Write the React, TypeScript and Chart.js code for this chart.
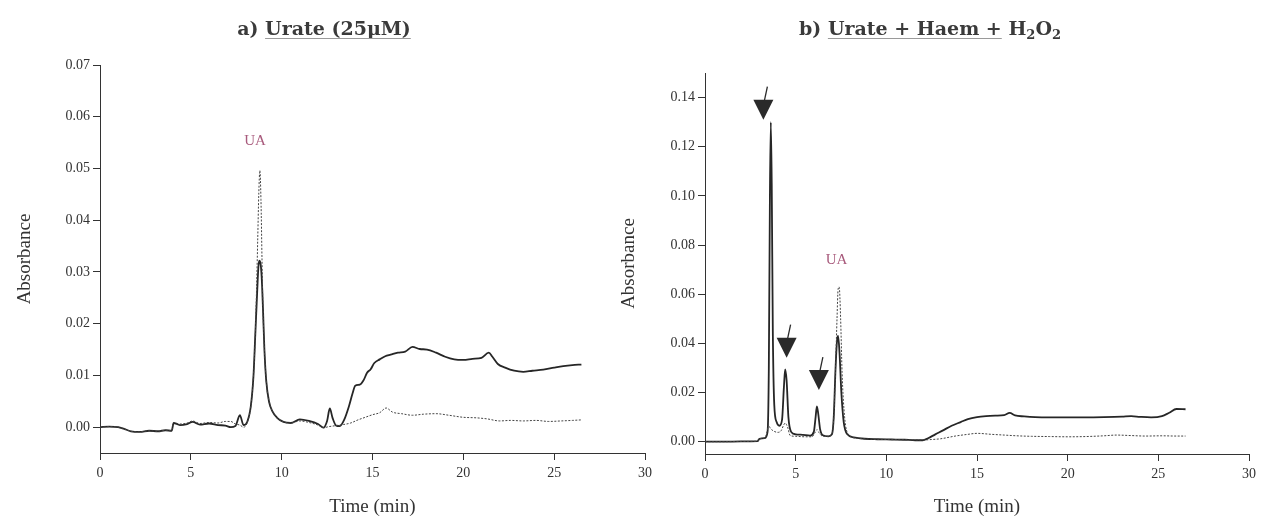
import React, { useEffect, useRef } from "react";
import { Chart, registerables } from "chart.js";

Chart.register(...registerables);

// ---------- tick labels ----------
const X_TICKS = [0, 5, 10, 15, 20, 25, 30];
const Y_TICKS_A = [0, 0.01, 0.02, 0.03, 0.04, 0.05, 0.06, 0.07];
const Y_TICKS_B = [0, 0.02, 0.04, 0.06, 0.08, 0.1, 0.12, 0.14];

// ---------- panel a) Urate (25 µM) ----------
const T_A_SOLID = [0, 0.5, 1.0, 1.3, 1.7, 2.2, 2.7, 3.2, 3.6, 3.95, 4.05, 4.4, 4.8, 5.1, 5.5, 6.0, 6.5, 6.9, 7.2, 7.45, 7.7, 7.9, 8.1, 8.3, 8.45, 8.55, 8.65, 8.72, 8.77, 8.83, 8.9, 8.97, 9.05, 9.15, 9.3, 9.5, 9.75, 10.1, 10.5, 11.0, 11.5, 12.0, 12.3, 12.5, 12.65, 12.8, 13.0, 13.2, 13.45, 13.7, 13.9, 14.05, 14.3, 14.5, 14.7, 14.9, 15.1, 15.4, 15.7, 16.0, 16.4, 16.8, 17.2, 17.6, 18.0, 18.5, 19.0, 19.5, 20.0, 20.5, 21.0, 21.4, 21.6, 21.9, 22.3, 22.8, 23.3, 23.8, 24.4, 25.0, 25.5, 26.0, 26.5];
const V_A_SOLID = [0.0, 0.0001, 0.0, -0.0003, -0.0008, -0.0009, -0.0007, -0.0008, -0.0006, -0.0007, 0.0008, 0.0004, 0.0006, 0.001, 0.0005, 0.0007, 0.0004, 0.0003, 0.0, 0.0002, 0.0023, 0.0004, 0.001, 0.004, 0.01, 0.018, 0.026, 0.031, 0.0322, 0.0318, 0.029, 0.023, 0.015, 0.009, 0.005, 0.003, 0.0018, 0.001, 0.0008, 0.0015, 0.0012, 0.0006, -0.0001, 0.0012, 0.0036, 0.0018, 0.0003, 0.0002, 0.0015, 0.004, 0.0065, 0.008, 0.0082, 0.009, 0.0105, 0.0112, 0.0124, 0.0131, 0.0137, 0.014, 0.0144, 0.0146, 0.0155, 0.0151, 0.015, 0.0144, 0.0136, 0.0131, 0.013, 0.0132, 0.0134, 0.0144, 0.0136, 0.0122, 0.0115, 0.0109, 0.0107, 0.0109, 0.0111, 0.0115, 0.0118, 0.012, 0.0121];

const T_A_DOTTED = [0, 0.5, 1.0, 1.3, 1.7, 2.2, 2.7, 3.2, 3.6, 3.95, 4.05, 4.4, 4.8, 5.1, 5.5, 6.0, 6.5, 6.9, 7.2, 7.45, 7.7, 7.9, 8.1, 8.3, 8.45, 8.55, 8.62, 8.68, 8.74, 8.8, 8.86, 8.92, 8.97, 9.05, 9.15, 9.3, 9.5, 9.75, 10.1, 10.5, 11.0, 11.5, 12.0, 12.3, 12.6, 13.0, 13.4, 13.8, 14.2, 14.6, 15.0, 15.4, 15.75, 16.1, 16.6, 17.2, 17.8, 18.5, 19.2, 20.0, 20.7, 21.3, 22.0, 22.6, 23.3, 24.0, 24.7, 25.4, 26.0, 26.5];
const V_A_DOTTED = [0.0, 0.0001, 0.0, -0.0003, -0.0008, -0.0009, -0.0007, -0.0008, -0.0006, -0.0007, 0.0009, 0.0006, 0.0008, 0.0012, 0.0007, 0.0009, 0.0008, 0.0011, 0.0011, 0.0006, 0.0004, 0.0, 0.0008, 0.004, 0.01, 0.018, 0.027, 0.036, 0.045, 0.0496, 0.044, 0.032, 0.023, 0.015, 0.009, 0.005, 0.003, 0.0018, 0.001, 0.0008, 0.0012, 0.0009, 0.0004, -0.0001, 0.0001, 0.0003, 0.0005, 0.0008, 0.0014, 0.0019, 0.0024, 0.0028, 0.0037, 0.0029, 0.0026, 0.0023, 0.0025, 0.0026, 0.0023, 0.0019, 0.0018, 0.0016, 0.0012, 0.0013, 0.0012, 0.0013, 0.0011, 0.0012, 0.0013, 0.0014];

// ---------- panel b) Urate + Haem + H2O2 ----------
const T_B_SOLID = [0, 1, 2, 2.9, 3.0, 3.3, 3.45, 3.52, 3.58, 3.63, 3.68, 3.74, 3.82, 3.95, 4.1, 4.25, 4.35, 4.42, 4.5, 4.6, 4.75, 5.0, 5.4, 5.8, 6.0, 6.1, 6.17, 6.25, 6.35, 6.5, 6.8, 7.0, 7.1, 7.2, 7.28, 7.34, 7.42, 7.52, 7.65, 7.85, 8.2, 8.8, 9.5, 10.3, 11.0, 11.6, 12.0, 12.3, 12.7, 13.1, 13.6, 14.1, 14.5, 15.0, 15.5, 16.0, 16.5, 16.8, 17.1, 17.6, 18.2, 19.0, 20.0, 21.0, 22.0, 23.0, 23.5, 24.0, 24.6, 25.2, 25.6, 26.0, 26.5];
const V_B_SOLID = [0, 0, 0.0001, 0.0002, 0.0012, 0.0015, 0.004, 0.03, 0.1, 0.13, 0.105, 0.045, 0.015, 0.008, 0.0065, 0.009, 0.022, 0.0294, 0.025, 0.01, 0.004, 0.003, 0.0028, 0.0025, 0.004, 0.01, 0.0144, 0.011, 0.005, 0.0026, 0.0022, 0.003, 0.01, 0.03, 0.041, 0.043, 0.036, 0.02, 0.008, 0.003, 0.0018, 0.0012, 0.001, 0.0009, 0.0008, 0.0006, 0.0006, 0.0014, 0.003, 0.0045, 0.0065, 0.008, 0.0092, 0.01, 0.0104, 0.0106, 0.0108, 0.0117, 0.0107, 0.0103, 0.01, 0.0099, 0.0099, 0.0099, 0.01, 0.0102, 0.0104, 0.0101, 0.0099, 0.0104, 0.0118, 0.0133, 0.0132];

const T_B_DOTTED = [0, 1, 2, 2.9, 3.0, 3.3, 3.42, 3.5, 3.6, 3.75, 4.0, 4.2, 4.32, 4.42, 4.55, 4.7, 5.0, 5.5, 5.9, 6.05, 6.18, 6.3, 6.5, 6.8, 7.0, 7.1, 7.2, 7.28, 7.34, 7.4, 7.48, 7.56, 7.7, 7.9, 8.3, 9.0, 10.0, 11.0, 12.0, 12.5, 13.0, 13.8, 14.5, 15.0, 15.8, 16.5, 17.2, 18.0, 19.0, 20.0, 21.0, 22.0, 22.7, 23.5, 24.3, 25.2, 26.0, 26.5];
const V_B_DOTTED = [0, 0, 0.0001, 0.0002, 0.0012, 0.0015, 0.004, 0.0069, 0.0055, 0.0045, 0.0038, 0.0045, 0.0065, 0.0076, 0.006, 0.0025, 0.0022, 0.002, 0.002, 0.0035, 0.0049, 0.0035, 0.0022, 0.0022, 0.003, 0.01, 0.03, 0.05, 0.062, 0.063, 0.05, 0.028, 0.01, 0.003, 0.0015, 0.0011, 0.0009, 0.0008, 0.0007, 0.0009, 0.0012, 0.0023, 0.003, 0.0034, 0.003, 0.0027, 0.0024, 0.0022, 0.0021, 0.002, 0.0021, 0.0024, 0.0027, 0.0025, 0.0023, 0.0024, 0.0023, 0.0023];

// ---------- annotations (data coordinates) ----------
const ARROW_T = [3.22, 4.5, 6.28];
const ARROW_V = [0.131, 0.0342, 0.021];
const UA_A = [8.53, 0.0553];
const UA_B = [7.25, 0.0739];

const SERIF = "'Liberation Serif', 'DejaVu Serif', serif";
const INK = "#333";

type Run = { text: string; sub?: boolean; underline?: boolean };

function zip(t: number[], v: number[]) {
  return t.map((x, i) => ({ x, y: v[i] }));
}

function makeDecor(cfg: {
  title: Run[];
  titleX: number;
  titleY: number;
  ua: number[];
  arrows: boolean;
}) {
  return {
    id: "decor",
    afterDraw(chart: any) {
      const ctx = chart.ctx as CanvasRenderingContext2D;
      const xs = chart.scales.x;
      const ys = chart.scales.y;
      ctx.save();
      // title
      const mainFont = "bold 19px 'DejaVu Serif', serif";
      const subFont = "bold 13px 'DejaVu Serif', serif";
      let total = 0;
      const widths = cfg.title.map((r) => {
        ctx.font = r.sub ? subFont : mainFont;
        const w = ctx.measureText(r.text).width;
        total += w;
        return w;
      });
      let x = cfg.titleX - total / 2;
      ctx.textBaseline = "alphabetic";
      ctx.textAlign = "left";
      const base = cfg.titleY + 7;
      cfg.title.forEach((r, i) => {
        ctx.font = r.sub ? subFont : mainFont;
        ctx.fillStyle = "#3a3a3a";
        ctx.fillText(r.text, x, r.sub ? base + 4 : base);
        if (r.underline) {
          ctx.strokeStyle = "#9a9a9a";
          ctx.lineWidth = 1;
          ctx.beginPath();
          ctx.moveTo(x, base + 3.5);
          ctx.lineTo(x + widths[i], base + 3.5);
          ctx.stroke();
        }
        x += widths[i];
      });
      // UA label
      ctx.font = `15px ${SERIF}`;
      ctx.fillStyle = "#a85a7c";
      ctx.textAlign = "center";
      ctx.textBaseline = "middle";
      ctx.fillText("UA", xs.getPixelForValue(cfg.ua[0]), ys.getPixelForValue(cfg.ua[1]));
      // arrows
      if (cfg.arrows) {
        ARROW_T.forEach((t, i) => {
          const px = xs.getPixelForValue(t);
          const py = ys.getPixelForValue(ARROW_V[i]);
          ctx.fillStyle = "#2a2a2a";
          ctx.beginPath();
          ctx.moveTo(px, py);
          ctx.lineTo(px - 10, py - 20);
          ctx.lineTo(px + 10, py - 20);
          ctx.closePath();
          ctx.fill();
          ctx.strokeStyle = "#2a2a2a";
          ctx.lineWidth = 1.3;
          ctx.beginPath();
          ctx.moveTo(px + 1, py - 19);
          ctx.lineTo(px + 4, py - 33);
          ctx.stroke();
        });
      }
      ctx.restore();
    },
  };
}

function makeConfig(opts: {
  solid: { x: number; y: number }[];
  dotted: { x: number; y: number }[];
  yMax: number;
  yTicks: number[];
  yWidth: number;
  xHeight: number;
  pad: { left: number; right: number; top: number; bottom: number };
  yTitlePad: number;
  decor: any;
}) {
  const tickFont = { family: SERIF, size: 14 };
  const titleFont = { family: SERIF, size: 19 };
  return {
    type: "line" as const,
    data: {
      datasets: [
        {
          data: opts.dotted,
          borderColor: "#444",
          borderWidth: 1,
          borderDash: [2, 1.5],
          pointRadius: 0,
          fill: false,
          cubicInterpolationMode: "monotone" as const,
        },
        {
          data: opts.solid,
          borderColor: "#262626",
          borderWidth: 1.8,
          pointRadius: 0,
          fill: false,
          cubicInterpolationMode: "monotone" as const,
        },
      ],
    },
    options: {
      animation: false as const,
      responsive: false,
      events: [],
      parsing: false as const,
      layout: { padding: opts.pad },
      plugins: {
        legend: { display: false },
        title: { display: false },
        tooltip: { enabled: false },
      },
      scales: {
        x: {
          type: "linear" as const,
          min: 0,
          max: 30,
          afterBuildTicks: (s: any) => {
            s.ticks = X_TICKS.map((v) => ({ value: v }));
          },
          afterFit: (s: any) => {
            s.height = opts.xHeight;
          },
          ticks: {
            font: tickFont,
            color: INK,
            padding: 5,
            autoSkip: false,
            maxRotation: 0,
            callback: (v: any) => String(v),
          },
          grid: { drawOnChartArea: false, drawTicks: true, tickLength: 7, color: INK, lineWidth: 1 },
          border: { display: true, color: INK, width: 1 },
          title: {
            display: true,
            text: "Time (min)",
            font: titleFont,
            color: INK,
            padding: { top: 0, bottom: 1.5 },
          },
        },
        y: {
          type: "linear" as const,
          min: -0.005,
          max: opts.yMax,
          afterBuildTicks: (s: any) => {
            s.ticks = opts.yTicks.map((v) => ({ value: v }));
          },
          afterFit: (s: any) => {
            s.width = opts.yWidth;
          },
          ticks: {
            font: tickFont,
            color: INK,
            padding: 3,
            autoSkip: false,
            callback: (v: any) => Number(v).toFixed(2),
          },
          grid: { drawOnChartArea: false, drawTicks: true, tickLength: 7, color: INK, lineWidth: 1 },
          border: { display: true, color: INK, width: 1 },
          title: {
            display: true,
            text: "Absorbance",
            font: titleFont,
            color: INK,
            padding: { top: opts.yTitlePad, bottom: 0 },
          },
        },
      },
    },
    plugins: [opts.decor],
  };
}

export default function App() {
  const leftRef = useRef<HTMLCanvasElement>(null);
  const rightRef = useRef<HTMLCanvasElement>(null);

  useEffect(() => {
    const left = new Chart(
      leftRef.current as HTMLCanvasElement,
      makeConfig({
        solid: zip(T_A_SOLID, V_A_SOLID),
        dotted: zip(T_A_DOTTED, V_A_DOTTED),
        yMax: 0.07,
        yTicks: Y_TICKS_A,
        yWidth: 100,
        xHeight: 67,
        pad: { left: 0, right: 15, top: 65, bottom: 0 },
        yTitlePad: 13.5,
        decor: makeDecor({
          title: [{ text: "a) " }, { text: "Urate (25µM)", underline: true }],
          titleX: 324,
          titleY: 28,
          ua: UA_A,
          arrows: false,
        }),
      }) as any
    );
    const right = new Chart(
      rightRef.current as HTMLCanvasElement,
      makeConfig({
        solid: zip(T_B_SOLID, V_B_SOLID),
        dotted: zip(T_B_DOTTED, V_B_DOTTED),
        yMax: 0.15,
        yTicks: Y_TICKS_B,
        yWidth: 95,
        xHeight: 66,
        pad: { left: 0, right: 13, top: 73, bottom: 0 },
        yTitlePad: 7.5,
        decor: makeDecor({
          title: [
            { text: "b) " },
            { text: "Urate + Haem +", underline: true },
            { text: " H" },
            { text: "2", sub: true },
            { text: "O" },
            { text: "2", sub: true },
          ],
          titleX: 320,
          titleY: 28,
          ua: UA_B,
          arrows: true,
        }),
      }) as any
    );
    return () => {
      left.destroy();
      right.destroy();
    };
  }, []);

  return (
    <div style={{ position: "absolute", left: 0, top: 0, width: 1262, height: 520, background: "#fff" }}>
      <canvas
        ref={leftRef}
        width={660}
        height={520}
        style={{ position: "absolute", left: 0, top: 0, width: 660, height: 520 }}
      />
      <canvas
        ref={rightRef}
        width={652}
        height={520}
        style={{ position: "absolute", left: 610, top: 0, width: 652, height: 520 }}
      />
    </div>
  );
}
